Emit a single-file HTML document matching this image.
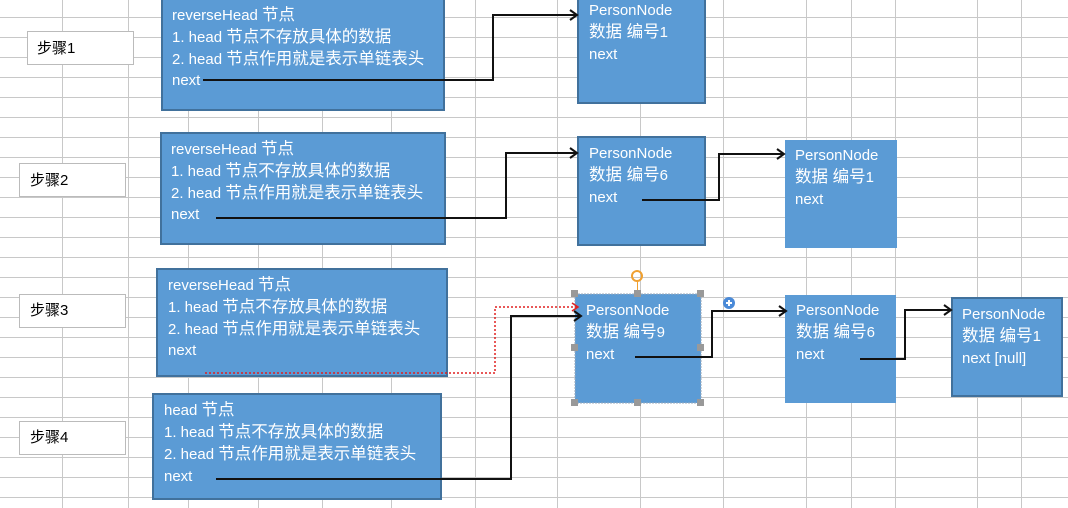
<!DOCTYPE html>
<html><head><meta charset="utf-8"><style>
body{margin:0;width:1068px;height:508px;overflow:hidden;background:#fff;font-family:"Liberation Sans","Noto Sans CJK SC",sans-serif}
svg{position:absolute;left:0;top:0}
.b{fill:#5b9bd5;stroke:#41719c;stroke-width:2}
.t{fill:#fff;font-size:15px;font-family:"Liberation Sans","Noto Sans CJK SC",sans-serif}
.t tspan{font-size:16.5px}
.s{fill:#000;font-size:15px;font-family:"Liberation Sans","Noto Sans CJK SC",sans-serif}
.c{fill:none;stroke:#111;stroke-width:2}
</style></head><body>
<svg width="1068" height="508" xmlns="http://www.w3.org/2000/svg">
<g stroke="#c8c8c8" stroke-width="1">
<line x1="62.5" y1="0" x2="62.5" y2="508"/><line x1="128.5" y1="0" x2="128.5" y2="508"/><line x1="188.5" y1="0" x2="188.5" y2="508"/><line x1="258.5" y1="0" x2="258.5" y2="508"/><line x1="322.5" y1="0" x2="322.5" y2="508"/><line x1="391.5" y1="0" x2="391.5" y2="508"/><line x1="475.5" y1="0" x2="475.5" y2="508"/><line x1="557.5" y1="0" x2="557.5" y2="508"/><line x1="640.5" y1="0" x2="640.5" y2="508"/><line x1="723.5" y1="0" x2="723.5" y2="508"/><line x1="806.5" y1="0" x2="806.5" y2="508"/><line x1="851.5" y1="0" x2="851.5" y2="508"/><line x1="895.5" y1="0" x2="895.5" y2="508"/><line x1="977.5" y1="0" x2="977.5" y2="508"/><line x1="1021.5" y1="0" x2="1021.5" y2="508"/>
<line x1="0" y1="17.5" x2="1068" y2="17.5"/><line x1="0" y1="37.5" x2="1068" y2="37.5"/><line x1="0" y1="57.5" x2="1068" y2="57.5"/><line x1="0" y1="77.5" x2="1068" y2="77.5"/><line x1="0" y1="97.5" x2="1068" y2="97.5"/><line x1="0" y1="117.5" x2="1068" y2="117.5"/><line x1="0" y1="137.5" x2="1068" y2="137.5"/><line x1="0" y1="157.5" x2="1068" y2="157.5"/><line x1="0" y1="177.5" x2="1068" y2="177.5"/><line x1="0" y1="197.5" x2="1068" y2="197.5"/><line x1="0" y1="217.5" x2="1068" y2="217.5"/><line x1="0" y1="237.5" x2="1068" y2="237.5"/><line x1="0" y1="257.5" x2="1068" y2="257.5"/><line x1="0" y1="277.5" x2="1068" y2="277.5"/><line x1="0" y1="297.5" x2="1068" y2="297.5"/><line x1="0" y1="317.5" x2="1068" y2="317.5"/><line x1="0" y1="337.5" x2="1068" y2="337.5"/><line x1="0" y1="357.5" x2="1068" y2="357.5"/><line x1="0" y1="377.5" x2="1068" y2="377.5"/><line x1="0" y1="397.5" x2="1068" y2="397.5"/><line x1="0" y1="417.5" x2="1068" y2="417.5"/><line x1="0" y1="437.5" x2="1068" y2="437.5"/><line x1="0" y1="457.5" x2="1068" y2="457.5"/><line x1="0" y1="477.5" x2="1068" y2="477.5"/><line x1="0" y1="497.5" x2="1068" y2="497.5"/>
</g>
<g fill="#fff" stroke="#bbb">
<rect x="27.5" y="31.5" width="106" height="33"/><rect x="19.5" y="163.5" width="106" height="33"/><rect x="19.5" y="294.5" width="106" height="33"/><rect x="19.5" y="421.5" width="106" height="33"/>
</g>
<text class="s" x="37" y="53">步骤1</text><text class="s" x="30" y="185">步骤2</text><text class="s" x="30" y="315">步骤3</text><text class="s" x="30" y="442">步骤4</text>
<rect class="b" x="162" y="-2" width="282" height="112"/>
<text class="t" x="172" y="20">reverseHead <tspan>节点</tspan></text><text class="t" x="172" y="42">1. head <tspan>节点不存放具体的数据</tspan></text><text class="t" x="172" y="64">2. head <tspan>节点作用就是表示单链表头</tspan></text><text class="t" x="172" y="85">next</text>
<rect class="b" x="161" y="133" width="284" height="111"/>
<text class="t" x="171" y="154">reverseHead <tspan>节点</tspan></text><text class="t" x="171" y="176">1. head <tspan>节点不存放具体的数据</tspan></text><text class="t" x="171" y="198">2. head <tspan>节点作用就是表示单链表头</tspan></text><text class="t" x="171" y="219">next</text>
<rect class="b" x="157" y="269" width="290" height="107"/>
<text class="t" x="168" y="290">reverseHead <tspan>节点</tspan></text><text class="t" x="168" y="312">1. head <tspan>节点不存放具体的数据</tspan></text><text class="t" x="168" y="334">2. head <tspan>节点作用就是表示单链表头</tspan></text><text class="t" x="168" y="355">next</text>
<rect class="b" x="153" y="394" width="288" height="105"/>
<text class="t" x="164" y="415">head <tspan>节点</tspan></text><text class="t" x="164" y="437">1. head <tspan>节点不存放具体的数据</tspan></text><text class="t" x="164" y="459">2. head <tspan>节点作用就是表示单链表头</tspan></text><text class="t" x="164" y="481">next</text>
<rect class="b" x="578" y="-2" width="127" height="105"/>
<text class="t" x="589" y="15">PersonNode</text><text class="t" x="589" y="37"><tspan>数据 编号</tspan>1</text><text class="t" x="589" y="59">next</text>
<rect class="b" x="578" y="137" width="127" height="108"/>
<text class="t" x="589" y="158">PersonNode</text><text class="t" x="589" y="180"><tspan>数据 编号</tspan>6</text><text class="t" x="589" y="202">next</text>
<rect x="785" y="140" width="112" height="108" fill="#5b9bd5"/>
<text class="t" x="795" y="160">PersonNode</text><text class="t" x="795" y="182"><tspan>数据 编号</tspan>1</text><text class="t" x="795" y="204">next</text>
<rect x="575" y="294" width="126" height="109" fill="#5b9bd5" stroke="#9ab" stroke-dasharray="2,1"/>
<text class="t" x="586" y="315">PersonNode</text><text class="t" x="586" y="337"><tspan>数据 编号</tspan>9</text><text class="t" x="586" y="359">next</text>
<rect x="785" y="295" width="111" height="108" fill="#5b9bd5"/>
<text class="t" x="796" y="315">PersonNode</text><text class="t" x="796" y="337"><tspan>数据 编号</tspan>6</text><text class="t" x="796" y="359">next</text>
<rect class="b" x="952" y="298" width="110" height="98"/>
<text class="t" x="962" y="319">PersonNode</text><text class="t" x="962" y="341"><tspan>数据 编号</tspan>1</text><text class="t" x="962" y="363">next [null]</text>
<polyline class="c" points="203,80 493,80 493,15 576,15"/><polyline class="c" points="570,10 577,15 570,20"/>
<polyline class="c" points="216,218 506,218 506,153 576,153"/><polyline class="c" points="570,148 577,153 570,158"/>
<polyline class="c" points="642,200 719,200 719,154 783,154"/><polyline class="c" points="777,149 784,154 777,159"/>
<polyline fill="none" stroke="#e02020" stroke-width="1.5" stroke-dasharray="2,2" points="205,373 495,373 495,307 578,307"/><polyline fill="none" stroke="#e02020" stroke-width="1.5" points="572,303 578,307 572,311"/>
<polyline class="c" points="216,479 511,479 511,316 580,316"/><polyline class="c" points="574,311 581,316 574,321"/>
<polyline class="c" points="635,357 712,357 712,311 785,311"/><polyline class="c" points="779,306 786,311 779,316"/>
<polyline class="c" points="860,359 905,359 905,310 950,310"/><polyline class="c" points="944,305 951,310 944,315"/>
<g fill="#999">
<rect x="571" y="290" width="7" height="7"/><rect x="634" y="290" width="7" height="7"/><rect x="697" y="290" width="7" height="7"/>
<rect x="571" y="344" width="7" height="7"/><rect x="697" y="344" width="7" height="7"/>
<rect x="571" y="399" width="7" height="7"/><rect x="634" y="399" width="7" height="7"/><rect x="697" y="399" width="7" height="7"/>
</g>
<line x1="637.5" y1="281" x2="637.5" y2="290" stroke="#f0a030" stroke-width="1"/>
<circle cx="637" cy="276" r="5" fill="none" stroke="#f0a030" stroke-width="2"/>
<circle cx="729" cy="303" r="6" fill="#4a8ad8"/>
<path d="M726 303h6M729 300v6" stroke="#fff" stroke-width="2"/>
</svg>
</body></html>
